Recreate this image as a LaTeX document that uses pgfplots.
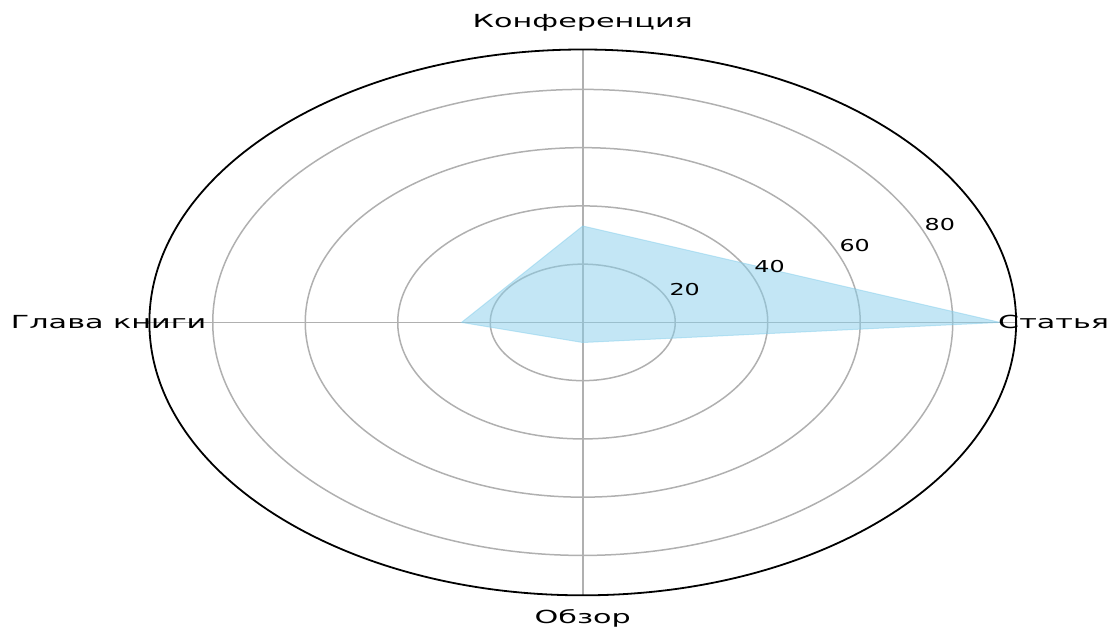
\documentclass[border=0pt]{standalone}
\usepackage{pgfplots}
\pgfplotsset{compat=1.18}
\usepackage{fontspec}
\setmainfont{DejaVu Sans}
\definecolor{skyb}{HTML}{87CEEB}
\definecolor{gridc}{HTML}{B0B0B0}
\begin{document}
\begin{tikzpicture}
\begin{axis}[
  hide axis, scale only axis, clip=false,
  width=433.5pt, height=273pt,
  xmin=-93.7, xmax=93.7, ymin=-93.7, ymax=93.7,
]
\coordinate (bl) at (axis cs:-126,-105.9);
\coordinate (tr) at (axis cs:114,110.7);
% grid
\draw[gridc, line width=0.75pt] (axis cs:0,0) ellipse [x radius=20, y radius=20];
\draw[gridc, line width=0.75pt] (axis cs:0,0) ellipse [x radius=40, y radius=40];
\draw[gridc, line width=0.75pt] (axis cs:0,0) ellipse [x radius=60, y radius=60];
\draw[gridc, line width=0.75pt] (axis cs:0,0) ellipse [x radius=80, y radius=80];
\draw[gridc, line width=0.75pt] (axis cs:-93.7,0) -- (axis cs:93.7,0);
\draw[gridc, line width=0.75pt] (axis cs:0,-93.7) -- (axis cs:0,93.7);
% data
\addplot[fill=skyb, fill opacity=0.5, draw=skyb, draw opacity=0.5, line width=0.5pt, data cs=polar]
  coordinates {(0,90.2) (90,33.1) (180,26.2) (270,6.9) (360,90.2)} \closedcycle;
% outer
\draw[black, line width=0.9pt] (axis cs:0,0) ellipse [x radius=93.7, y radius=93.7];
% labels
\node[font=\fontsize{9}{11}\selectfont, xscale=1.68] at (axis cs:0,103) {Конференция};
\node[font=\fontsize{9}{11}\selectfont, xscale=1.68] at (axis cs:0,-101.6) {Обзор};
\node[font=\fontsize{9}{11}\selectfont, xscale=1.68] at (axis cs:-102.5,0) {Глава книги};
\node[font=\fontsize{9}{11}\selectfont, xscale=1.68] at (axis cs:101.8,0) {Статья};
\node[font=\fontsize{8.2}{10}\selectfont, xscale=1.45] at (axis cs:22.05,11.16) {20};
\node[font=\fontsize{8.2}{10}\selectfont, xscale=1.45] at (axis cs:40.4,19.05) {40};
\node[font=\fontsize{8.2}{10}\selectfont, xscale=1.45] at (axis cs:58.8,26.4) {60};
\node[font=\fontsize{8.2}{10}\selectfont, xscale=1.45] at (axis cs:77.2,33.5) {80};
\end{axis}
\pgfresetboundingbox
\path[use as bounding box] (bl) rectangle (tr);
\end{tikzpicture}
\end{document}
